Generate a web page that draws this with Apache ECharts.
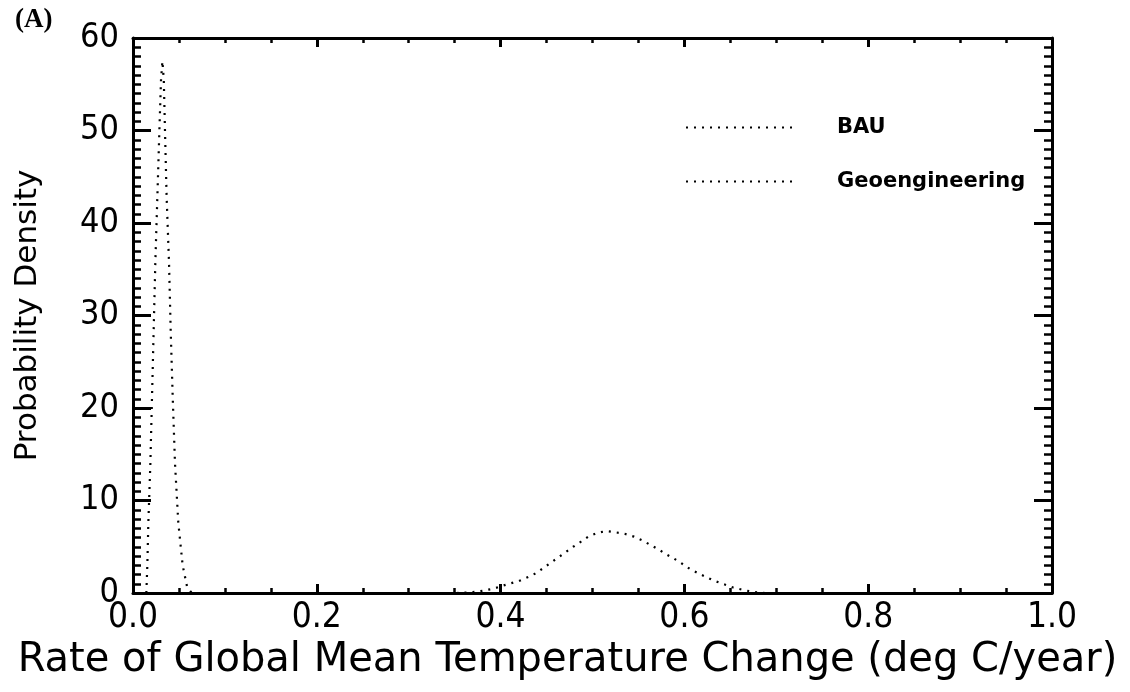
<!DOCTYPE html>
<html>
<head>
<meta charset="utf-8">
<script src="https://cdn.jsdelivr.net/npm/echarts@6/dist/echarts.min.js"></script>
<style>
  html, body { margin: 0; padding: 0; background: #fff; }
  #main { width: 1130px; height: 692px; }
</style>
</head>
<body>
<div id="main"></div>
<script>
// values
const xTicks = [0.0, 0.2, 0.4, 0.6, 0.8, 1.0];
const yTicks = [0, 10, 20, 30, 40, 50, 60];

// BAU curve (wide bump near 0.52)
const bauX = [0.352, 0.362, 0.370, 0.381, 0.392, 0.401, 0.411, 0.420, 0.430, 0.439, 0.4465, 0.455, 0.463, 0.471, 0.479, 0.4875,
  0.4955, 0.505, 0.515, 0.525, 0.535, 0.545, 0.554, 0.563, 0.572, 0.580, 0.589, 0.597, 0.606, 0.6145, 0.6235, 0.633,
  0.643, 0.653, 0.664, 0.675, 0.688];
const bauY = [0.0, 0.05, 0.1, 0.25, 0.46, 0.75, 1.05, 1.3, 1.73, 2.16, 2.7, 3.3, 3.86, 4.43, 5.0, 5.55,
  6.1, 6.5, 6.7, 6.56, 6.4, 6.1, 5.7, 5.2, 4.7, 4.2, 3.7, 3.2, 2.6, 2.16, 1.73, 1.3,
  0.95, 0.6, 0.33, 0.12, 0.0];

// Geoengineering curve (narrow spike near 0.03)
const geoX = [0.0145, 0.0156, 0.0167, 0.0189, 0.0207, 0.0225, 0.0243, 0.0265, 0.0287, 0.0305, 0.032,
  0.0335, 0.0348, 0.0366, 0.0392, 0.041, 0.0432, 0.0457, 0.0493, 0.054, 0.059, 0.064];
const geoY = [0, 3, 7.6, 14, 21.2, 28.4, 35.7, 42.8, 50, 55.5, 57.5,
  55.5, 50, 42.8, 35.7, 28.4, 21.2, 14, 7.6, 3, 0.6, 0];

const names = ['BAU', 'Geoengineering'];

let mycharts = echarts.init(document.getElementById('main'), null, { renderer: 'canvas' });

const pairs = (xs, ys) => xs.map((x, i) => [x, ys[i]]);
const tickFont = 'DejaVu Sans Condensed';
const titleFont = 'DejaVu Sans';
const dots = { color: '#000', width: 2.2, type: [2, 6] };

function xAx(pos, labels) {
  return {
    type: 'value', position: pos, min: 0, max: 1, interval: 0.2,
    axisLine: { onZero: false, lineStyle: { color: '#000', width: 3 } },
    axisTick: { inside: true, length: 9, lineStyle: { color: '#000', width: 3 } },
    minorTick: { show: true, splitNumber: 4, length: 5, lineStyle: { color: '#000', width: 2.5 } },
    splitLine: { show: false },
    axisLabel: {
      show: labels, color: '#000', fontFamily: tickFont, fontSize: 35, margin: 7,
      formatter: v => v.toFixed(1)
    },
    name: labels ? 'Rate of Global Mean Temperature Change (deg C/year)' : '',
    nameLocation: 'middle', nameGap: 48,
    nameTextStyle: { color: '#000', fontFamily: titleFont, fontSize: 40, padding: [0, 50, 0, 0] }
  };
}

function yAx(pos, labels) {
  return {
    type: 'value', position: pos, min: 0, max: 60, interval: 10,
    axisLine: { onZero: false, lineStyle: { color: '#000', width: 3 } },
    axisTick: { inside: true, length: 18, lineStyle: { color: '#000', width: 3 } },
    minorTick: { show: true, splitNumber: 10, length: 8, lineStyle: { color: '#000', width: 2.5 } },
    splitLine: { show: false },
    axisLabel: { show: labels, color: '#000', fontFamily: tickFont, fontSize: 34, margin: 14 },
    name: labels ? 'Probability Density' : '',
    nameLocation: 'middle', nameGap: 90,
    nameTextStyle: { color: '#000', fontFamily: titleFont, fontSize: 31 }
  };
}

let option = {
  animation: false,
  backgroundColor: '#fff',
  title: {
    text: '(A)', left: 10, top: 2,
    textStyle: { color: '#000', fontFamily: 'Liberation Serif', fontWeight: 'bold', fontSize: 27 }
  },
  grid: { left: 133, right: 78, top: 38, bottom: 99 },
  legend: {
    data: names, orient: 'vertical', left: 680, top: 112,
    itemWidth: 110, itemHeight: 14, itemGap: 33,
    itemStyle: { opacity: 0 },
    textStyle: { color: '#000', fontFamily: 'DejaVu Sans', fontWeight: 'bold', fontSize: 21, padding: [0, 0, 16, 36] }
  },
  xAxis: [xAx('bottom', true), xAx('top', false)],
  yAxis: [yAx('left', true), yAx('right', false)],
  series: [
    {
      name: names[0], type: 'line', symbol: 'none', smooth: false,
      data: pairs(bauX, bauY), lineStyle: dots, itemStyle: { color: '#000' }
    },
    {
      name: names[1], type: 'line', symbol: 'none', smooth: false,
      data: pairs(geoX, geoY), lineStyle: dots, itemStyle: { color: '#000' }
    }
  ]
};

mycharts.setOption(option);
</script>
</body>
</html>
